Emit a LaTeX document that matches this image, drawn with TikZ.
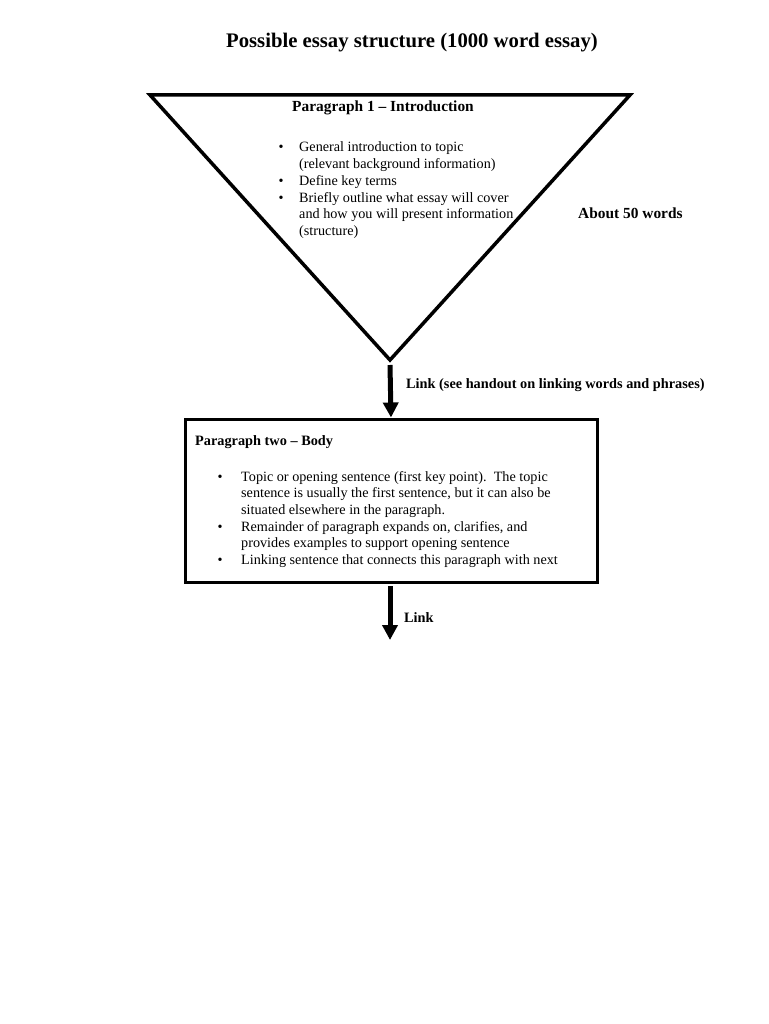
\documentclass[tikz,border=0pt]{standalone}
\usepackage{fontspec}
\setmainfont{Liberation Serif}
\usetikzlibrary{arrows.meta}
\begin{document}
\begin{tikzpicture}[x=1pt,y=-1pt,
  body/.style={font=\fontsize{14.2}{16.7}\selectfont, inner sep=0pt, align=left, anchor=base west},
  bold/.style={font=\fontsize{14.3}{16.6}\selectfont\bfseries, inner sep=0pt},
  bigbold/.style={font=\fontsize{15.4}{17}\selectfont\bfseries, inner sep=0pt},
  bul/.style={font=\fontsize{14.2}{16.7}\selectfont, inner sep=0pt, anchor=base},
  outline/.style={line width=3.5pt, line join=miter},
  linkarrow/.style={line width=5pt, -{Triangle[width=15pt,length=15pt]}, shorten >=0pt}
]
\useasboundingbox (0,0) rectangle (768,1024);
\fill[white] (0,0) rectangle (768,1024);

% title
\node[font=\fontsize{20.7}{23}\selectfont\bfseries, inner sep=0pt] (title) at (412,43) {Possible essay structure (1000 word essay)};

% triangle
\coordinate (tl) at (150,95);
\coordinate (tr) at (630,95);
\coordinate (tv) at (390,360);
\draw[outline] (tl) -- (tr) -- (tv) -- cycle;

\node[bigbold] (h1) at (383,108) {Paragraph 1 – Introduction};
% multi-line nodes are anchored at the baseline of their last line
\node[bul] (b1) at (281,152) {•};
\node[body] (i1) at (299,168.7) {General introduction to topic\\(relevant background information)};
\node[bul] (b2) at (281,185.4) {•};
\node[body] (i2) at (299,185.4) {Define key terms};
\node[bul] (b3) at (281,202.1) {•};
\node[body] (i3) at (299,235.5) {Briefly outline what essay will cover\\and how you will present information\\(structure)};

\node[bigbold, anchor=west] (about) at (578,213) {About 50 words};

% box
\node[draw, line width=3pt, minimum width=412pt, minimum height=163pt, inner sep=0pt] (box) at (391,500.5) {};
\node[bold, anchor=west] (h2) at (195,442) {Paragraph two – Body};
\node[bul] (c1) at (220,481) {•};
\node[body] (j1) at (241,514.4) {Topic or opening sentence (first key point).\ \ The topic\\sentence is usually the first sentence, but it can also be\\situated elsewhere in the paragraph.};
\node[bul] (c2) at (220,531.1) {•};
\node[body] (j2) at (241,547.8) {Remainder of paragraph expands on, clarifies, and\\provides examples to support opening sentence};
\node[bul] (c3) at (220,564.5) {•};
\node[body] (j3) at (241,564.5) {Linking sentence that connects this paragraph with next};

% arrows
\coordinate (a1s) at (390,365);
\draw[linkarrow] (a1s) -- (box.north);
\node[bold, anchor=west] (l1) at (406,385) {Link (see handout on linking words and phrases)};

\coordinate (a2s) at (390,586);
\coordinate (a2e) at (390,640);
\draw[linkarrow] (a2s) -- (a2e);
\node[bold, anchor=west] (l2) at (404,618) {Link};
\end{tikzpicture}
\end{document}
